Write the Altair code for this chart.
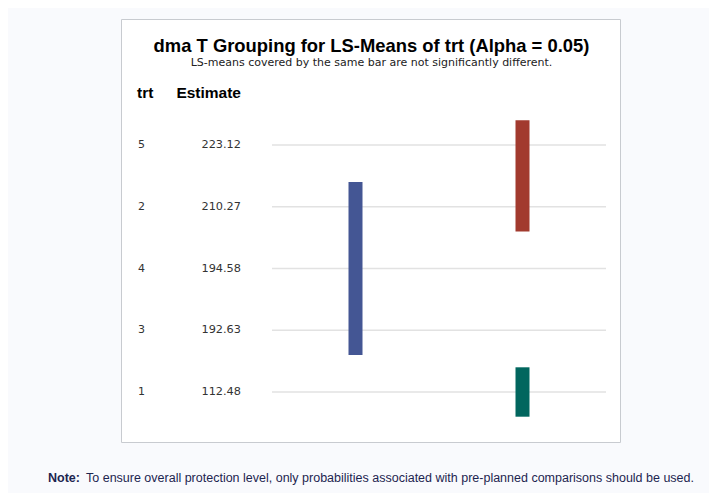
import altair as alt
import pandas as pd

# Data
trt_labels = ["5", "2", "4", "3", "1"]
estimates = ["223.12", "210.27", "194.58", "192.63", "112.48"]
ranks = [1, 2, 3, 4, 5]

group_names = ["A", "B", "C"]
group_col = [0.25, 0.75, 0.75]
group_top = [2, 1, 5]
group_bottom = [4, 2, 5]
group_colors = ["#445694", "#A23A2E", "#01665E"]

title_text = "dma T Grouping for LS-Means of trt (Alpha = 0.05)"
subtitle_text = "LS-means covered by the same bar are not significantly different."
note_label = "Note:"
note_text = "To ensure overall protection level, only probabilities associated with pre-planned comparisons should be used."

FONT = "Liberation Sans"
WIDE = "DejaVu Sans"

rows = pd.DataFrame({"trt": trt_labels, "est": estimates, "rank": ranks})
ext = 0.4
groups = pd.DataFrame({
    "g": group_names,
    "col": group_col,
    "y1": [t - ext for t in group_top],
    "y2": [b + ext for b in group_bottom],
})

yscale = alt.Scale(domain=[1, 5], range=[137, 384])
xscale = alt.Scale(domain=[0, 1], range=[264, 598], padding=0)

one = pd.DataFrame({"k": [0]})

top_box = alt.Chart(one).mark_rect(fill="white", stroke="#cfd3da", strokeWidth=1).encode(
    x=alt.value(63.5), x2=alt.value(662.5), y=alt.value(-6), y2=alt.value(-0.5)
)
box = alt.Chart(one).mark_rect(fill="white", stroke="#c8cbd0", strokeWidth=1).encode(
    x=alt.value(113.5), x2=alt.value(612.5), y=alt.value(11.5), y2=alt.value(434.5)
)

grid = alt.Chart(rows).mark_rule(color="#e2e2e2", strokeWidth=1.5).encode(
    y=alt.Y("rank:Q", scale=yscale, axis=None),
    x=alt.value(264), x2=alt.value(598),
)

trt_text = alt.Chart(rows).mark_text(align="left", baseline="middle", font=WIDE, fontSize=11, color="#333333").encode(
    y=alt.Y("rank:Q", scale=yscale, axis=None),
    x=alt.value(130),
    text="trt:N",
)
est_text = alt.Chart(rows).mark_text(align="right", baseline="middle", font=WIDE, fontSize=11.3, color="#333333").encode(
    y=alt.Y("rank:Q", scale=yscale, axis=None),
    x=alt.value(233),
    text="est:N",
)

bars = alt.Chart(groups).mark_bar(size=14, stroke=None).encode(
    x=alt.X("col:Q", scale=xscale, axis=None),
    y=alt.Y("y1:Q", scale=yscale, axis=None),
    y2="y2:Q",
    color=alt.Color("g:N", scale=alt.Scale(domain=group_names, range=group_colors), legend=None),
)

def txt(s, x, y, size, weight="normal", align="center", color="black", font=FONT):
    return alt.Chart(pd.DataFrame({"t": [s]})).mark_text(
        align=align, baseline="middle", font=font, fontSize=size, fontWeight=weight, color=color
    ).encode(x=alt.value(x), y=alt.value(y), text="t:N")

title = txt(title_text, 363.5, 37.5, 18.4, "bold")
subtitle = txt(subtitle_text, 363.5, 54.5, 11, color="#222222", font=WIDE)
h_trt = txt("trt", 129, 84.5, 15.5, "bold", "left")
h_est = txt("Estimate", 233, 84.5, 15.5, "bold", "right")
note1 = txt(note_label, 40, 469.5, 12.5, "bold", "left", "#1d2550")
note2 = txt(note_text, 78, 469.5, 12.5, "normal", "left", "#1d2550")

chart = alt.layer(
    top_box, box, grid, trt_text, est_text, bars, title, subtitle, h_trt, h_est, note1, note2
).properties(
    width=701, height=485, background="#f9fafd", padding=0,
    autosize=alt.AutoSizeParams(type="none"),
).configure_view(stroke=None).resolve_scale(x="shared", y="shared")

chart.save("out.html", embed_options={"renderer": "svg", "actions": False})
